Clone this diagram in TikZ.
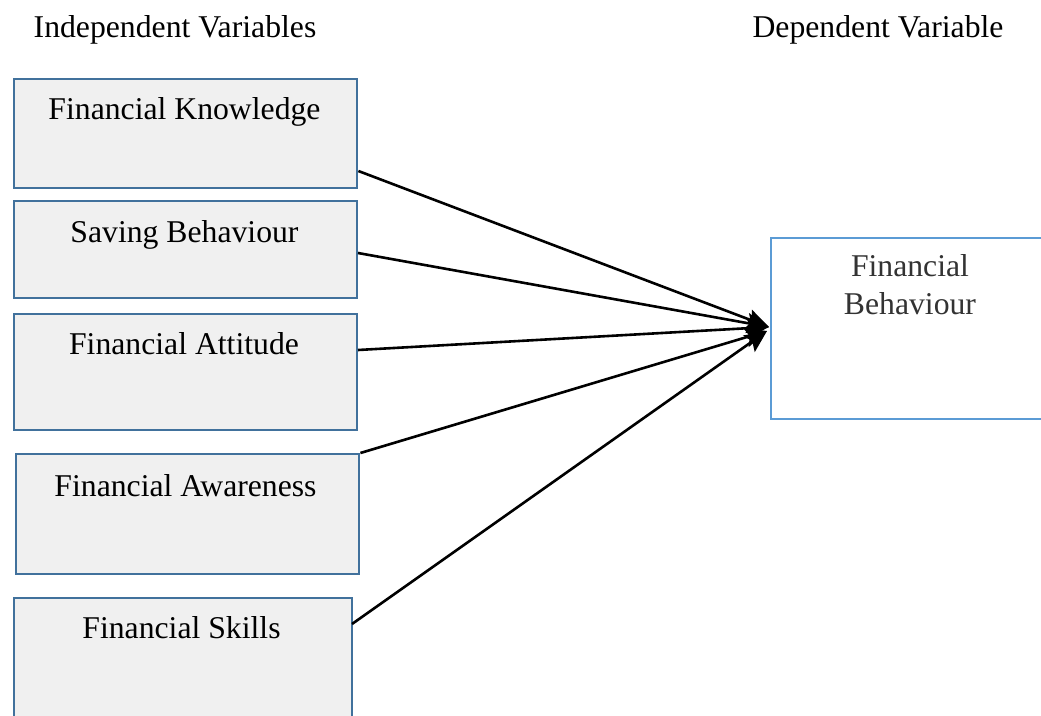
\documentclass[tikz,border=0pt]{standalone}
\usepackage{fontspec}
\setmainfont{Liberation Serif}
\usetikzlibrary{arrows.meta}
\definecolor{ibord}{HTML}{41719C}
\definecolor{ifill}{HTML}{F0F0F0}
\definecolor{dbord}{HTML}{5B9BD5}
\definecolor{dtext}{HTML}{333333}
\begin{document}
\begin{tikzpicture}[x=1pt,y=-1pt,
  ibox/.style={draw=ibord,fill=ifill,line width=2.4pt,rectangle,anchor=north west,inner sep=0pt},
  dbox/.style={draw=dbord,fill=white,line width=2.4pt,rectangle,anchor=north west,inner sep=0pt},
  lbl/.style={anchor=base,inner sep=0pt,font=\fontsize{31.7}{38}\selectfont},
  conn/.style={line width=2.6pt,-{Stealth[length=22pt,width=20pt,inset=4pt]}}]
\useasboundingbox (0,0) rectangle (1041,715);
\clip (0,0) rectangle (1041,715);
% boxes
\node[ibox,minimum width=343pt,minimum height=109pt] (b1) at (13,78) {};
\node[ibox,minimum width=343pt,minimum height=97pt] (b2) at (13,200) {};
\node[ibox,minimum width=343pt,minimum height=116pt] (b3) at (13,313) {};
\node[ibox,minimum width=343pt,minimum height=120pt] (b4) at (15,453) {};
\node[ibox,minimum width=338pt,minimum height=140pt] (b5) at (13,597) {};
\node[dbox,minimum width=300pt,minimum height=181pt] (db) at (770,237) {};
% texts
\node[lbl] (h1) at (175,37) {Independent Variables};
\node[lbl] (h2) at (878,37) {Dependent Variable};
\node[lbl] (t1) at (184.5,119) {Financial Knowledge};
\node[lbl] (t2) at (184.5,242) {Saving Behaviour};
\node[lbl] (t3) at (184,354) {Financial Attitude};
\node[lbl] (t4) at (185.5,496) {Financial Awareness};
\node[lbl] (t5) at (181.5,638) {Financial Skills};
\node[lbl,text=dtext] (d1) at (910,276) {Financial};
\node[lbl,text=dtext] (d2) at (910,314) {Behaviour};
% connector end points
\coordinate (s1) at (b1.south east |- 0,171);
\coordinate (s2) at (358,253);
\coordinate (s3) at (358,350);
\coordinate (s4) at (b4.north east);
\coordinate (s5) at (352,624);
\coordinate (e1) at (769,327);
\coordinate (e2) at (767,331);
\draw[conn] (s1) -- (e1);
\draw[conn] (s2) -- (e1);
\draw[conn] (s3) -- (e1);
\draw[conn] (s4) -- (e2);
\draw[conn] (s5) -- (e2);
\end{tikzpicture}
\end{document}
